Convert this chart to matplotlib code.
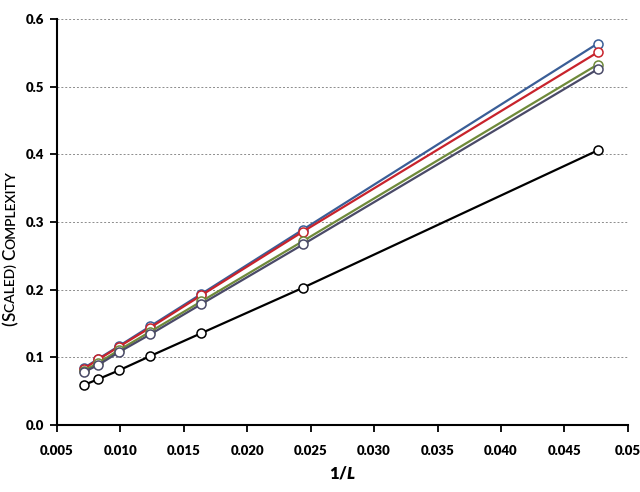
import numpy as np
import matplotlib
matplotlib.use("Agg")
import matplotlib.pyplot as plt

plt.rcParams['font.family'] = ['Lato', 'DejaVu Sans']
plt.rcParams['mathtext.fontset'] = 'custom'
plt.rcParams['mathtext.it'] = 'Lato:heavy:italic'
plt.rcParams['mathtext.rm'] = 'Lato:heavy'

# system sizes L, plotted as 1/L
lengths = [141, 121, 101, 81, 61, 41, 21]
inv_L = [1.0 / n for n in lengths]

series_blue = [0.084, 0.098, 0.117, 0.146, 0.194, 0.289, 0.564]
series_red = [0.083, 0.097, 0.116, 0.144, 0.192, 0.286, 0.551]
series_olive = [0.080, 0.092, 0.111, 0.138, 0.183, 0.272, 0.533]
series_slate = [0.078, 0.089, 0.108, 0.134, 0.179, 0.267, 0.526]
series_black = [0.059, 0.068, 0.081, 0.102, 0.136, 0.203, 0.406]

x_ticks = [0.005, 0.010, 0.015, 0.020, 0.025, 0.030, 0.035, 0.040, 0.045, 0.050]
x_labels = ["0.005", "0.010", "0.015", "0.020", "0.025", "0.030", "0.035", "0.040", "0.045", "0.05"]
y_ticks = [0.0, 0.1, 0.2, 0.3, 0.4, 0.5, 0.6]

fig = plt.figure(figsize=(6.4, 4.92), dpi=100)
ax = fig.add_axes([0.089, 0.136, 0.892, 0.825])

for ys, col in [(series_black, '#000000'),
                (series_blue, '#3A5E97'),
                (series_red, '#C8232C'),
                (series_olive, '#6F8A3A'),
                (series_slate, '#4A4A68')]:
    ax.plot(inv_L, ys, color=col, lw=1.6, marker='o', ms=6.5,
            mfc='white', mec=col, mew=1.1, zorder=3)

ax.set_xlim(0.005, 0.05)
ax.set_ylim(0.0, 0.6)
ax.set_xticks(x_ticks)
ax.set_xticklabels(x_labels)
ax.set_yticks(y_ticks)
ax.set_yticklabels([f"{v:.1f}" for v in y_ticks])

ax.grid(axis='y', linestyle=(0, (2, 2)), color='#8c8c8c', lw=0.7)
ax.grid(axis='x', visible=False)
for s in ['top', 'right']:
    ax.spines[s].set_visible(False)
for s in ['left', 'bottom']:
    ax.spines[s].set_linewidth(1.5)
ax.tick_params(axis='both', direction='out', length=5, width=1.3,
               labelsize=9.5, pad=4)
for lab in ax.get_xticklabels() + ax.get_yticklabels():
    lab.set_fontweight('heavy')
ax.tick_params(axis='x', pad=9)

ax.set_xlabel(r"$\mathrm{1/}\mathit{L}$", fontsize=12, labelpad=6)

# y label in small caps, built piece by piece from the bottom up
pieces = [("(", 12.3), ("S", 12.3), ("CALED) ", 10), ("C", 12.3), ("OMPLEXITY", 10)]
fig.canvas.draw()
renderer = fig.canvas.get_renderer()
y_px = 492 - 326
for txt, size in pieces:
    t = fig.text(0.024, y_px / 492, txt, rotation=90, fontsize=size,
                 fontweight='semibold', ha='left', va='baseline',
                 rotation_mode='anchor')
    bb = t.get_window_extent(renderer)
    y_px += bb.height

fig.savefig("out.png", dpi=100)
